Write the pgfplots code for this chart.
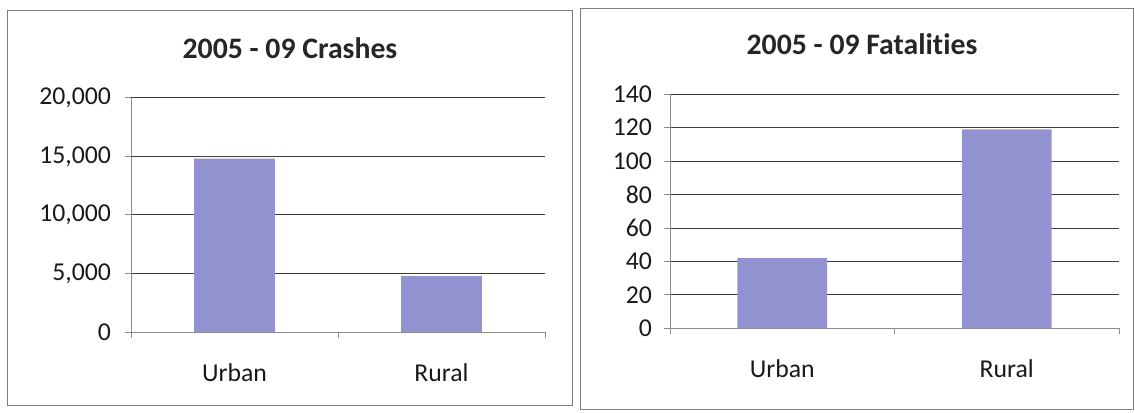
\documentclass[border=0pt]{standalone}
\usepackage{fontspec}
\setmainfont{Carlito}[Ligatures={NoCommon}]
\usepackage{pgfplots}
\pgfplotsset{compat=1.18}
\definecolor{barcol}{RGB}{146,146,208}
\definecolor{gridcol}{RGB}{60,60,60}
\definecolor{framecol}{RGB}{125,125,125}
\definecolor{axcol}{RGB}{140,140,140}
\pgfplotsset{
  panel/.style={
    scale only axis,
    anchor=south west,
    xmin=0, xmax=2, ymin=0,
    axis x line=bottom, axis y line=left,
    axis line style={-, draw=axcol, line width=0.6pt},
    xtick={0,1,2}, xticklabels={},
    extra x ticks={0.5,1.5},
    extra x tick labels={Urban,Rural},
    extra x tick style={major tick length=0pt, grid=none,
      tick label style={yshift=-20pt}},
    ymajorgrids,
    major grid style={gridcol, line width=0.7pt},
    tick align=outside, major tick length=4.5pt,
    tick style={axcol, line width=0.6pt},
    tick label style={font=\fontsize{19.3}{20}\selectfont, text=black!90},
    /pgf/number format/assume math mode=true,
    /pgf/number format/1000 sep={,},
    scaled y ticks=false,
    ybar,
    title style={font=\fontsize{22.3}{24}\selectfont\bfseries, text=black!85, anchor=center, inner sep=0pt},
  }
}
\begin{document}
\begin{tikzpicture}
\useasboundingbox (0,0) rectangle (851.25pt,309pt);
\draw[framecol, line width=0.6pt] (5.25pt,5.25pt) rectangle (429pt,301.5pt);
\draw[framecol, line width=0.6pt] (435pt,2.25pt) rectangle (849.75pt,303pt);

\begin{axis}[panel,
  at={(98.25pt,60pt)}, width=310.5pt, height=175.7pt,
  ymax=20000, ytick={0,5000,10000,15000,20000},
  bar width=0.39,
  yticklabel style={xshift=-7pt},
  title={2005 - 09 Crashes},
  title style={at={(axis description cs:0.384,1.178)}},
]
\addplot[fill=barcol, draw=none] coordinates {(0.5,14800) (1.5,4780)};
\end{axis}

\begin{axis}[panel,
  at={(502.5pt,62.8pt)}, width=336.75pt, height=175.5pt,
  ymax=140, ytick={0,20,40,60,80,100,120,140},
  bar width=0.40,
  yticklabel style={xshift=-5.5pt},
  title={2005 - 09 Fatalities},
  title style={at={(axis description cs:0.4276,1.18)}},
]
\addplot[fill=barcol, draw=none] coordinates {(0.5,42) (1.5,119)};
\end{axis}
\end{tikzpicture}
\end{document}
